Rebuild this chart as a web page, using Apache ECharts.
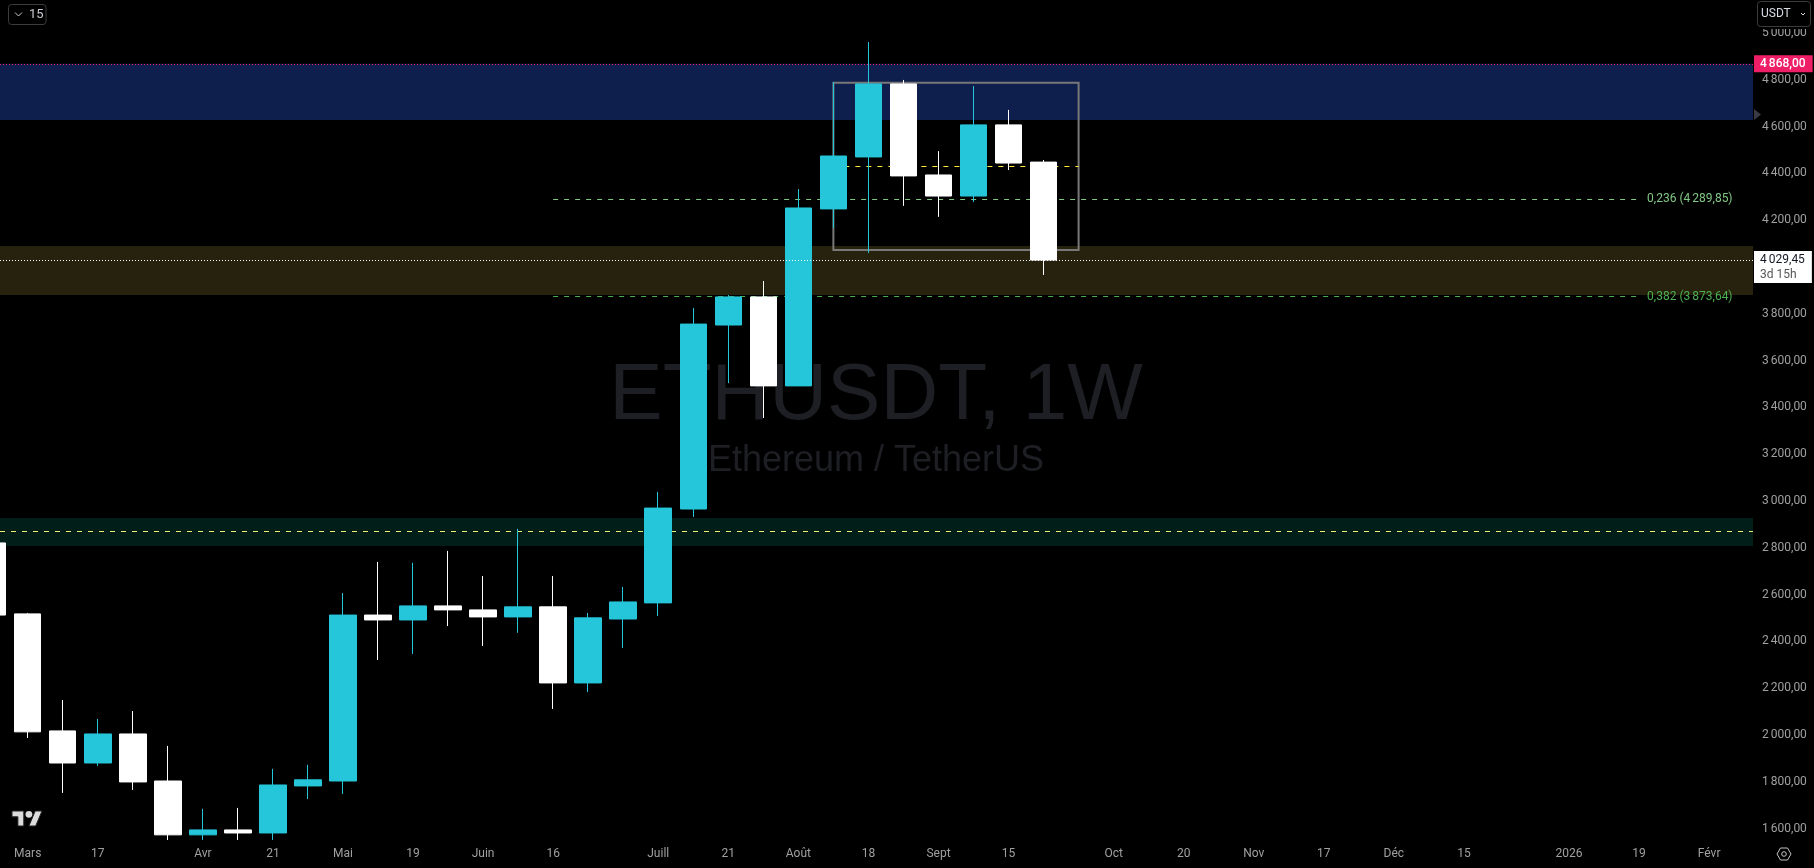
<!DOCTYPE html>
<html>
<head>
<meta charset="utf-8">
<style>html,body{margin:0;padding:0;background:#000;overflow:hidden}#c{width:1814px;height:868px}</style>
<script src="https://cdn.jsdelivr.net/npm/echarts@6/dist/echarts.min.js"></script>
</head>
<body>
<div id="c"></div>
<script>
// Weekly candles; index 0 is the first week of March 2025
const weekIndex = [-1,0,1,2,3,4,5,6,7,8,9,10,11,12,13,14,15,16,17,18,19,20,21,22,23,24,25,26,27,28,29];
const opens  = [2821,2518,2018,1881,2005,1804,1574,1595,1582,1783,1804,2513,2492,2552,2535,2505,2548,2223,2496,2565,2966,3752,3872,3492,4248,4470,4782,4393,4303,4607,4448];
const closes = [2513,2014,1881,2005,1800,1574,1595,1582,1787,1809,2513,2492,2552,2535,2505,2548,2223,2501,2569,2970,3756,3872,3492,4252,4474,4782,4389,4303,4607,4444,4029.45];
const lows   = [2500,1988,1753,1868,1766,1552,1552,1552,1552,1727,1749,2321,2347,2466,2381,2437,2112,2184,2372,2509,2932,3504,3355,3492,4167,4060,4261,4214,4278,4414,3966];
const highs  = [2850,2522,2150,2069,2103,1954,1685,1689,1856,1873,2607,2740,2736,2787,2680,2881,2680,2522,2633,3039,3825,3880,3940,4333,4790,4961,4799,4495,4773,4671,4457];

const timeTickIndex = [0,2,5,7,9,11,13,15,18,20,22,24,26,28,31,33,35,37,39,41,44,46,48];
const timeTickLabels = ['Mars','17','Avr','21','Mai','19','Juin','16','Juill','21','Août','18','Sept','15','Oct','20','Nov','17','Déc','15','2026','19','Févr'];
const priceTicks = [5000,4800,4600,4400,4200,3800,3600,3400,3200,3000,2800,2600,2400,2200,2000,1800,1600];

const xExtent = [-0.7907, 49.252];
const yExtent = [1552, 5140.5];

const blueZone = [4868, 4628];
const oliveZone = [4090, 3880];
const greenZone = [2928, 2808];
const supportLevel = 2871;
const resistLevel = 4868;
const lastPrice = 4029.45;
const fib236 = 4289.85;
const fib382 = 3873.64;
const fibSpan = [15, 46];
const boxX = [23, 30];
const boxY = [4787, 4073];
const midLevel = 4430;

const fr = v => { const s = v.toFixed(2).replace('.', ','); const i = s.length - 6; return i > 0 ? s.slice(0, i) + '\u2006' + s.slice(i) : s; };
const FONT = 'Roboto, "Liberation Sans", sans-serif';
const TEAL = '#26C6DA', WHITE = '#FFFFFF', AXIS = '#a0a0a0';

const chart = echarts.init(document.getElementById('c'), null, {renderer: 'canvas'});
chart.setOption({
  animation: false,
  backgroundColor: '#000000',
  grid: {left: 0, top: 0, width: 1753, height: 840, containLabel: false},
  xAxis: {
    type: 'value', min: xExtent[0], max: xExtent[1], scale: true,
    axisLine: {show: false}, axisTick: {show: false}, splitLine: {show: false},
    axisLabel: {
      customValues: timeTickIndex, color: AXIS, fontFamily: FONT, fontSize: 12, margin: 8, hideOverlap: false,
      formatter: v => timeTickLabels[timeTickIndex.indexOf(v)] || ''
    }
  },
  yAxis: {
    type: 'value', position: 'right', min: yExtent[0], max: yExtent[1], scale: true,
    axisLine: {show: false}, axisTick: {show: false}, splitLine: {show: false},
    axisLabel: {
      customValues: priceTicks, color: AXIS, fontFamily: FONT, fontSize: 12, margin: 9, align: 'left', hideOverlap: false,
      formatter: v => fr(v)
    }
  },
  series: [
    {
      type: 'line', name: 'zones', data: [], silent: true, z: 1,
      markArea: {
        silent: true, z: 1,
        data: [
          [{yAxis: blueZone[0], itemStyle: {color: '#0E1F4D', opacity: 1}}, {yAxis: blueZone[1]}],
          [{yAxis: oliveZone[0], itemStyle: {color: '#27220D', opacity: 1}}, {yAxis: oliveZone[1]}],
          [{yAxis: greenZone[0], itemStyle: {color: '#021E18', opacity: 1}}, {yAxis: greenZone[1]}]
        ]
      }
    },
    {
      type: 'line', name: 'box', data: [], silent: true, z: 1,
      markArea: {
        silent: true, z: 1,
        itemStyle: {color: 'rgba(0,0,0,0)', borderColor: '#787878', borderWidth: 2, opacity: 1},
        data: [[{coord: [boxX[0], boxY[0]]}, {coord: [boxX[1], boxY[1]]}]]
      }
    },
    {
      type: 'line', name: 'levels', data: [], silent: true, z: 2,
      markLine: {
        silent: true, z: 2, symbol: ['none', 'none'], precision: 2,
        data: [
          [{coord: [xExtent[0], supportLevel], lineStyle: {color: '#F2EE7A', width: 1, type: [5, 6], opacity: 1}, label: {show: false}}, {coord: [xExtent[1], supportLevel]}],
          [{coord: [boxX[0], midLevel], lineStyle: {color: '#FFEB3B', width: 1, type: [5, 6], opacity: 1}, label: {show: false}}, {coord: [boxX[1], midLevel]}],
          [{coord: [fibSpan[0], fib236], lineStyle: {color: '#81C784', width: 1, type: [5, 6], opacity: 1},
            label: {show: true, position: 'end', distance: 8, color: '#81C784', fontFamily: FONT, fontSize: 12, formatter: '0,236 (' + fr(fib236) + ')'}},
           {coord: [fibSpan[1], fib236]}],
          [{coord: [fibSpan[0], fib382], lineStyle: {color: '#4CAF50', width: 1, type: [5, 6], opacity: 1},
            label: {show: true, position: 'end', distance: 8, color: '#4CAF50', fontFamily: FONT, fontSize: 12, formatter: '0,382 (' + fr(fib382) + ')'}},
           {coord: [fibSpan[1], fib382]}]
        ]
      }
    },
    {
      type: 'candlestick', name: 'ETHUSDT', z: 3, barWidth: 27, clip: true,
      data: weekIndex.map((w, i) => [w, opens[i], closes[i], lows[i], highs[i]]),
      itemStyle: {color: TEAL, color0: WHITE, borderColor: TEAL, borderColor0: WHITE, borderWidth: 1}
    },
    {
      type: 'line', name: 'prices', data: [], silent: true, z: 5,
      markLine: {
        silent: true, z: 5, symbol: ['none', 'none'], precision: 2,
        data: [
          [{coord: [xExtent[0], resistLevel], lineStyle: {color: '#F01E6A', width: 1, type: [1, 2], opacity: 1},
            label: {show: true, position: 'end', distance: 1, color: '#fff', backgroundColor: '#EE1F66', fontFamily: FONT, fontSize: 12, fontWeight: 500,
                     padding: [2, 7, 2, 6], lineHeight: 13, formatter: fr(resistLevel)}},
           {coord: [xExtent[1], resistLevel]}],
          [{coord: [xExtent[0], lastPrice], lineStyle: {color: '#FFFFFF', width: 1, type: [1, 2], opacity: 1},
            label: {show: true, position: 'end', distance: 1, offset: [0, 7], backgroundColor: '#FFFFFF', padding: [1, 7, 1, 6],
                     formatter: '{a|' + fr(lastPrice) + '}\n{b|3d 15h}',
                     rich: {a: {color: '#131722', fontFamily: FONT, fontSize: 12, lineHeight: 15}, b: {color: '#555', fontFamily: FONT, fontSize: 12, lineHeight: 15}}}},
           {coord: [xExtent[1], lastPrice]}]
        ]
      }
    }
  ],
  graphic: [
    {type: 'text', z: 0, silent: true, x: 876, y: 397, style: {text: 'ETHUSDT, 1W', fill: '#1E1F24', font: '80px "Liberation Sans", sans-serif', textAlign: 'center', textVerticalAlign: 'middle'}},
    {type: 'text', z: 0, silent: true, x: 876, y: 461, style: {text: 'Ethereum / TetherUS', fill: '#1E1F24', font: '36px "Liberation Sans", sans-serif', textAlign: 'center', textVerticalAlign: 'middle'}},
    {type: 'rect', z: 90, silent: true, shape: {x: 1754, y: 0, width: 60, height: 29}, style: {fill: '#000'}},
    {type: 'rect', z: 100, silent: true, shape: {x: 1757.5, y: 1.5, width: 53, height: 25, r: 3}, style: {fill: '#000', stroke: '#3c3c3c', lineWidth: 1}},
    {type: 'text', z: 101, silent: true, x: 1761, y: 14, style: {text: 'USDT', fill: '#d8dbe2', font: '12px Roboto, sans-serif', textVerticalAlign: 'middle'}},
    {type: 'polyline', z: 101, silent: true, shape: {points: [[1801, 13], [1803, 15], [1805, 13]]}, style: {stroke: '#d8dbe2', lineWidth: 1, fill: 'none'}},
    {type: 'rect', z: 100, silent: true, shape: {x: 8.5, y: 4.5, width: 37.5, height: 20, r: 3}, style: {fill: '#000', stroke: '#3c3c3c', lineWidth: 1}},
    {type: 'polyline', z: 101, silent: true, shape: {points: [[15, 12.5], [18.5, 16], [22, 12.5]]}, style: {stroke: '#c8cad0', lineWidth: 1, fill: 'none'}},
    {type: 'text', z: 101, silent: true, x: 29, y: 15, style: {text: '15', fill: '#c8cad0', font: '13px Roboto, sans-serif', textVerticalAlign: 'middle'}},
    {type: 'polygon', z: 101, silent: true, shape: {points: [[1754, 109], [1761, 114.5], [1754, 120]]}, style: {fill: '#3a3a44'}},
    {type: 'polygon', z: 101, silent: true, shape: {points: [[12, 811], [23.8, 811], [23.8, 826], [17.9, 826], [17.9, 816.8], [12, 816.8]]}, style: {fill: '#dcdcdc', stroke: '#222', lineWidth: 1}},
    {type: 'polygon', z: 101, silent: true, shape: {points: [[28.9, 826], [35.2, 811], [42, 811], [35.7, 826]]}, style: {fill: '#dcdcdc', stroke: '#222', lineWidth: 1}},
    {type: 'circle', z: 101, silent: true, shape: {cx: 28.9, cy: 814.3, r: 3.4}, style: {fill: '#dcdcdc'}},
    {type: 'polygon', z: 101, silent: true, shape: {points: [[1777, 854], [1780.5, 848], [1787.5, 848], [1791, 854], [1787.5, 860], [1780.5, 860]]}, style: {fill: 'none', stroke: '#c4c4c4', lineWidth: 1}},
    {type: 'circle', z: 101, silent: true, shape: {cx: 1784, cy: 854, r: 2.3}, style: {fill: 'none', stroke: '#c4c4c4', lineWidth: 1}}
  ]
});
</script>
</body>
</html>
